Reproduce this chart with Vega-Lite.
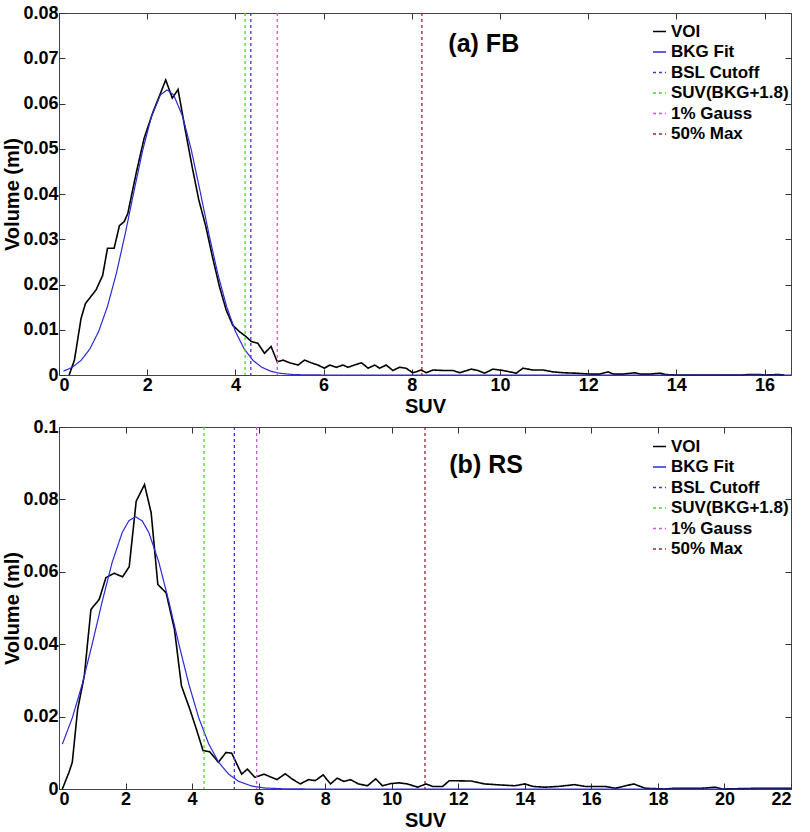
{
  "$schema": "https://vega.github.io/schema/vega-lite/v6.json",
  "background": "white",
  "padding": {"top": 3, "left": 2, "right": 10, "bottom": 2},
  "spacing": 0,
  "datasets": {
    "voiA": [
      {"x":0.23,"y":0},{"x":0.35,"y":0.0033},{"x":0.5,"y":0.0125},{"x":0.6,"y":0.0158},{"x":0.84,"y":0.0188},{"x":0.99,"y":0.022},{"x":1.1,"y":0.028},{"x":1.25,"y":0.028},{"x":1.37,"y":0.033},{"x":1.48,"y":0.0339},{"x":1.56,"y":0.0357},{"x":1.75,"y":0.0446},{"x":1.93,"y":0.0523},{"x":2.12,"y":0.0578},{"x":2.42,"y":0.0652},{"x":2.57,"y":0.0612},{"x":2.7,"y":0.0631},{"x":2.87,"y":0.0538},{"x":3.02,"y":0.046},{"x":3.17,"y":0.0387},{"x":3.33,"y":0.0328},{"x":3.48,"y":0.0261},{"x":3.64,"y":0.0195},{"x":3.79,"y":0.0144},{"x":3.94,"y":0.011},{"x":4.09,"y":0.0096},{"x":4.24,"y":0.0085},{"x":4.36,"y":0.0074},{"x":4.51,"y":0.007},{"x":4.66,"y":0.0048},{"x":4.81,"y":0.0063},{"x":4.95,"y":0.0029},{"x":5.08,"y":0.0033},{"x":5.23,"y":0.0027},{"x":5.42,"y":0.0022},{"x":5.57,"y":0.0033},{"x":5.72,"y":0.0027},{"x":5.87,"y":0.0022},{"x":6.02,"y":0.0015},{"x":6.14,"y":0.0022},{"x":6.29,"y":0.0017},{"x":6.44,"y":0.0022},{"x":6.55,"y":0.0017},{"x":6.7,"y":0.0022},{"x":6.86,"y":0.0027},{"x":7.01,"y":0.0015},{"x":7.16,"y":0.0022},{"x":7.27,"y":0.0015},{"x":7.42,"y":0.0022},{"x":7.57,"y":0.001},{"x":7.72,"y":0.0017},{"x":7.87,"y":0.0015},{"x":8.02,"y":0.0005},{"x":8.1,"y":0.0007},{"x":8.21,"y":0.0011},{"x":8.33,"y":0.0005},{"x":8.48,"y":0.0011},{"x":8.71,"y":0.001},{"x":8.93,"y":0.001},{"x":9.09,"y":0.0005},{"x":9.35,"y":0.0013},{"x":9.5,"y":0.001},{"x":9.65,"y":0.0004},{"x":9.84,"y":0.0013},{"x":10.07,"y":0.001},{"x":10.37,"y":0.0004},{"x":10.52,"y":0.0015},{"x":10.75,"y":0.0011},{"x":10.98,"y":0.0011},{"x":11.2,"y":0.0007},{"x":11.43,"y":0.0005},{"x":11.73,"y":0.0004},{"x":12.04,"y":0.0002},{"x":12.26,"y":0.0002},{"x":12.45,"y":0.0007},{"x":12.57,"y":0.0002},{"x":12.8,"y":0.0002},{"x":13.06,"y":0.0005},{"x":13.18,"y":0.0002},{"x":13.4,"y":0.0002},{"x":13.63,"y":0.0004},{"x":13.75,"y":0.0001},{"x":14,"y":0},{"x":15.5,"y":0},{"x":15.6,"y":0.0001},{"x":15.9,"y":0.0001},{"x":16,"y":0},{"x":16.3,"y":0.0001},{"x":16.45,"y":0}
    ],
    "fitA": [
      {"x":0.1,"y":0.00084},{"x":0.3,"y":0.0017},{"x":0.5,"y":0.00323},{"x":0.7,"y":0.00576},{"x":0.9,"y":0.00964},{"x":1.1,"y":0.01517},{"x":1.3,"y":0.02242},{"x":1.5,"y":0.03113},{"x":1.7,"y":0.0406},{"x":1.9,"y":0.04974},{"x":2.1,"y":0.05725},{"x":2.3,"y":0.0619},{"x":2.45,"y":0.063},{"x":2.6,"y":0.0619},{"x":2.8,"y":0.05725},{"x":3.0,"y":0.04974},{"x":3.2,"y":0.0406},{"x":3.4,"y":0.03113},{"x":3.6,"y":0.02242},{"x":3.8,"y":0.01517},{"x":4.0,"y":0.00964},{"x":4.2,"y":0.00576},{"x":4.4,"y":0.00323},{"x":4.6,"y":0.0017},{"x":4.8,"y":0.00084},{"x":5.0,"y":0.00039},{"x":5.3,"y":0.00011},{"x":5.6,"y":0.00003},{"x":6.0,"y":0},{"x":16.6,"y":0}
    ],
    "cutA": [
      {"x":4.35,"series":"BSL Cutoff"},{"x":4.22,"series":"SUV(BKG+1.8)"},{"x":4.95,"series":"1% Gauss"},{"x":8.23,"series":"50% Max"}
    ],
    "voiB": [
      {"x":0.1,"y":0},{"x":0.3,"y":0.0046},{"x":0.4,"y":0.0074},{"x":0.56,"y":0.022},{"x":0.76,"y":0.0312},{"x":0.96,"y":0.0496},{"x":1.21,"y":0.0524},{"x":1.41,"y":0.0584},{"x":1.66,"y":0.0596},{"x":1.91,"y":0.0586},{"x":2.11,"y":0.0614},{"x":2.32,"y":0.0795},{"x":2.57,"y":0.0841},{"x":2.77,"y":0.0763},{"x":2.97,"y":0.0565},{"x":3.22,"y":0.0542},{"x":3.47,"y":0.0441},{"x":3.68,"y":0.0285},{"x":3.93,"y":0.0221},{"x":4.13,"y":0.0165},{"x":4.33,"y":0.0106},{"x":4.53,"y":0.0103},{"x":4.79,"y":0.0074},{"x":5.02,"y":0.0101},{"x":5.19,"y":0.0099},{"x":5.49,"y":0.0041},{"x":5.66,"y":0.0055},{"x":5.89,"y":0.0032},{"x":6.16,"y":0.0041},{"x":6.55,"y":0.0026},{"x":6.8,"y":0.0042},{"x":7.0,"y":0.0028},{"x":7.25,"y":0.0014},{"x":7.5,"y":0.0026},{"x":7.7,"y":0.0023},{"x":7.94,"y":0.0039},{"x":8.16,"y":0.0014},{"x":8.36,"y":0.003},{"x":8.56,"y":0.0021},{"x":8.76,"y":0.0026},{"x":9.0,"y":0.0014},{"x":9.27,"y":0.0009},{"x":9.52,"y":0.0028},{"x":9.72,"y":0.0009},{"x":9.97,"y":0.0015},{"x":10.22,"y":0.0017},{"x":10.47,"y":0.0014},{"x":10.78,"y":0.0005},{"x":11.03,"y":0.0014},{"x":11.23,"y":0.0007},{"x":11.53,"y":0.0007},{"x":11.73,"y":0.0023},{"x":12.39,"y":0.0022},{"x":12.79,"y":0.0014},{"x":13.29,"y":0.0011},{"x":13.7,"y":0.0009},{"x":14.0,"y":0.0014},{"x":14.25,"y":0.0007},{"x":14.6,"y":0.0005},{"x":15.0,"y":0.0007},{"x":15.5,"y":0.0012},{"x":15.81,"y":0.0007},{"x":16.42,"y":0.0007},{"x":16.72,"y":0.0002},{"x":17.27,"y":0.0014},{"x":17.62,"y":0.0002},{"x":18.2,"y":0},{"x":18.5,"y":0.0002},{"x":19.3,"y":0.0002},{"x":19.74,"y":0.0005},{"x":19.94,"y":0},{"x":21,"y":0.0002},{"x":22,"y":0.0002}
    ],
    "fitB": [
      {"x":0.1,"y":0.0124},{"x":0.4,"y":0.01965},{"x":0.7,"y":0.02903},{"x":1.0,"y":0.04012},{"x":1.3,"y":0.05186},{"x":1.6,"y":0.06267},{"x":1.9,"y":0.07085},{"x":2.1,"y":0.07409},{"x":2.3,"y":0.0752},{"x":2.5,"y":0.07409},{"x":2.7,"y":0.07085},{"x":3.0,"y":0.06267},{"x":3.3,"y":0.05186},{"x":3.6,"y":0.04012},{"x":3.9,"y":0.02903},{"x":4.2,"y":0.01965},{"x":4.5,"y":0.01244},{"x":4.8,"y":0.00736},{"x":5.1,"y":0.00408},{"x":5.4,"y":0.00211},{"x":5.8,"y":0.00079},{"x":6.2,"y":0.00026},{"x":6.8,"y":0.00004},{"x":7.5,"y":0},{"x":22,"y":0}
    ],
    "cutB": [
      {"x":5.27,"series":"BSL Cutoff"},{"x":4.36,"series":"SUV(BKG+1.8)"},{"x":5.94,"series":"1% Gauss"},{"x":11.0,"series":"50% Max"}
    ],
    "annA": [{"x":8.83,"y":0.0714,"label":"(a) FB"}],
    "annB": [{"x":11.73,"y":0.0873,"label":"(b) RS"}],
    "zero": [{"x":0,"y":0}]
  },
  "vconcat": [
    {
      "width": 732,
      "height": 362,
      "resolve": {"axis": {"x": "independent", "y": "independent"}},
      "layer": [
        {
          "data": {"name": "voiA"},
          "transform": [{"calculate": "'VOI'", "as": "series"}],
          "mark": {"type": "line", "strokeWidth": 1.6},
          "encoding": {
            "x": {"field": "x", "type": "quantitative", "scale": {"domain": [0, 16.6], "nice": false}, "axis": {"title": "SUV", "values": [0,2,4,6,8,10,12,14,16]}},
            "y": {"field": "y", "type": "quantitative", "scale": {"domain": [0, 0.08], "nice": false}, "axis": {"title": "Volume (ml)", "values": [0,0.01,0.02,0.03,0.04,0.05,0.06,0.07,0.08], "format": "~g"}},
            "color": {"field": "series", "type": "nominal", "scale": {"domain": ["VOI","BKG Fit","BSL Cutoff","SUV(BKG+1.8)","1% Gauss","50% Max"], "range": ["#000000","#2a2ad6","#3a3ac8","#44dd22","#d055e0","#a0202c"]}, "legend": {"orient": "none", "legendX": 592, "legendY": 10}},
            "strokeDash": {"field": "series", "type": "nominal", "scale": {"domain": ["VOI","BKG Fit","BSL Cutoff","SUV(BKG+1.8)","1% Gauss","50% Max"], "range": [[1,0],[1,0],[3,3],[3,3],[3,3],[3,3]]}, "legend": {"orient": "none", "legendX": 592, "legendY": 10}}
          }
        },
        {
          "data": {"name": "fitA"},
          "transform": [{"calculate": "'BKG Fit'", "as": "series"}],
          "mark": {"type": "line", "strokeWidth": 1.2},
          "encoding": {
            "x": {"field": "x", "type": "quantitative", "scale": {"domain": [0, 16.6], "nice": false}, "axis": null},
            "y": {"field": "y", "type": "quantitative", "scale": {"domain": [0, 0.08], "nice": false}, "axis": null},
            "color": {"field": "series", "type": "nominal"},
            "strokeDash": {"field": "series", "type": "nominal"}
          }
        },
        {
          "data": {"name": "cutA"},
          "mark": {"type": "rule", "strokeWidth": 1.3},
          "encoding": {
            "x": {"field": "x", "type": "quantitative", "scale": {"domain": [0, 16.6], "nice": false}, "axis": null},
            "color": {"field": "series", "type": "nominal"},
            "strokeDash": {"field": "series", "type": "nominal"}
          }
        },
        {
          "data": {"name": "annA"},
          "mark": {"type": "text", "align": "left", "baseline": "alphabetic", "fontSize": 25, "fontWeight": "bold", "font": "Liberation Sans", "color": "#000"},
          "encoding": {
            "x": {"field": "x", "type": "quantitative", "scale": {"domain": [0, 16.6], "nice": false}, "axis": null},
            "y": {"field": "y", "type": "quantitative", "scale": {"domain": [0, 0.08], "nice": false}, "axis": null},
            "text": {"field": "label"}
          }
        },
        {
          "data": {"name": "zero"},
          "mark": {"type": "point", "opacity": 0},
          "encoding": {
            "x": {"field": "x", "type": "quantitative", "scale": {"domain": [0, 16.6], "nice": false}, "axis": {"orient": "top", "labels": false, "title": null, "values": [0,2,4,6,8,10,12,14,16]}},
            "y": {"field": "y", "type": "quantitative", "scale": {"domain": [0, 0.08], "nice": false}, "axis": {"orient": "right", "labels": false, "title": null, "values": [0,0.01,0.02,0.03,0.04,0.05,0.06,0.07,0.08]}}
          }
        }
      ]
    },
    {
      "width": 732,
      "height": 362,
      "resolve": {"axis": {"x": "independent", "y": "independent"}},
      "layer": [
        {
          "data": {"name": "voiB"},
          "transform": [{"calculate": "'VOI'", "as": "series"}],
          "mark": {"type": "line", "strokeWidth": 1.6},
          "encoding": {
            "x": {"field": "x", "type": "quantitative", "scale": {"domain": [0, 22], "nice": false}, "axis": {"title": "SUV", "values": [0,2,4,6,8,10,12,14,16,18,20,22]}},
            "y": {"field": "y", "type": "quantitative", "scale": {"domain": [0, 0.1], "nice": false}, "axis": {"title": "Volume (ml)", "values": [0,0.02,0.04,0.06,0.08,0.1], "format": "~g"}},
            "color": {"field": "series", "type": "nominal", "scale": {"domain": ["VOI","BKG Fit","BSL Cutoff","SUV(BKG+1.8)","1% Gauss","50% Max"], "range": ["#000000","#2a2ad6","#3a3ac8","#44dd22","#d055e0","#a0202c"]}, "legend": {"orient": "none", "legendX": 592, "legendY": 11}},
            "strokeDash": {"field": "series", "type": "nominal", "scale": {"domain": ["VOI","BKG Fit","BSL Cutoff","SUV(BKG+1.8)","1% Gauss","50% Max"], "range": [[1,0],[1,0],[3,3],[3,3],[3,3],[3,3]]}, "legend": {"orient": "none", "legendX": 592, "legendY": 11}}
          }
        },
        {
          "data": {"name": "fitB"},
          "transform": [{"calculate": "'BKG Fit'", "as": "series"}],
          "mark": {"type": "line", "strokeWidth": 1.2},
          "encoding": {
            "x": {"field": "x", "type": "quantitative", "scale": {"domain": [0, 22], "nice": false}, "axis": null},
            "y": {"field": "y", "type": "quantitative", "scale": {"domain": [0, 0.1], "nice": false}, "axis": null},
            "color": {"field": "series", "type": "nominal"},
            "strokeDash": {"field": "series", "type": "nominal"}
          }
        },
        {
          "data": {"name": "cutB"},
          "mark": {"type": "rule", "strokeWidth": 1.3},
          "encoding": {
            "x": {"field": "x", "type": "quantitative", "scale": {"domain": [0, 22], "nice": false}, "axis": null},
            "color": {"field": "series", "type": "nominal"},
            "strokeDash": {"field": "series", "type": "nominal"}
          }
        },
        {
          "data": {"name": "annB"},
          "mark": {"type": "text", "align": "left", "baseline": "alphabetic", "fontSize": 25, "fontWeight": "bold", "font": "Liberation Sans", "color": "#000"},
          "encoding": {
            "x": {"field": "x", "type": "quantitative", "scale": {"domain": [0, 22], "nice": false}, "axis": null},
            "y": {"field": "y", "type": "quantitative", "scale": {"domain": [0, 0.1], "nice": false}, "axis": null},
            "text": {"field": "label"}
          }
        },
        {
          "data": {"name": "zero"},
          "mark": {"type": "point", "opacity": 0},
          "encoding": {
            "x": {"field": "x", "type": "quantitative", "scale": {"domain": [0, 22], "nice": false}, "axis": {"orient": "top", "labels": false, "title": null, "values": [0,2,4,6,8,10,12,14,16,18,20,22]}},
            "y": {"field": "y", "type": "quantitative", "scale": {"domain": [0, 0.1], "nice": false}, "axis": {"orient": "right", "labels": false, "title": null, "values": [0,0.02,0.04,0.06,0.08,0.1]}}
          }
        }
      ]
    }
  ],
  "resolve": {"legend": {"color": "independent", "strokeDash": "independent"}},
  "config": {
    "font": "Liberation Sans",
    "view": {"stroke": "#444", "strokeWidth": 1},
    "axis": {
      "domain": false, "grid": false, "offset": -6, "zindex": 1,
      "ticks": true, "tickSize": 6, "tickColor": "#333", "tickWidth": 1,
      "labelFont": "Liberation Sans", "labelFontSize": 18, "labelFontWeight": "bold", "labelColor": "#000", "labelPadding": 1,
      "titleFont": "Liberation Sans", "titleFontSize": 20, "titleFontWeight": "bold", "titleColor": "#000", "titlePadding": 2
    },
    "axisY": {"titlePadding": 0},
    "legend": {
      "title": null, "symbolType": "stroke", "symbolSize": 170, "symbolStrokeWidth": 1.5,
      "labelFont": "Liberation Sans", "labelFontSize": 17, "labelFontWeight": "bold", "labelColor": "#000",
      "labelOffset": 3, "rowPadding": 2.5, "padding": 0
    }
  }
}
